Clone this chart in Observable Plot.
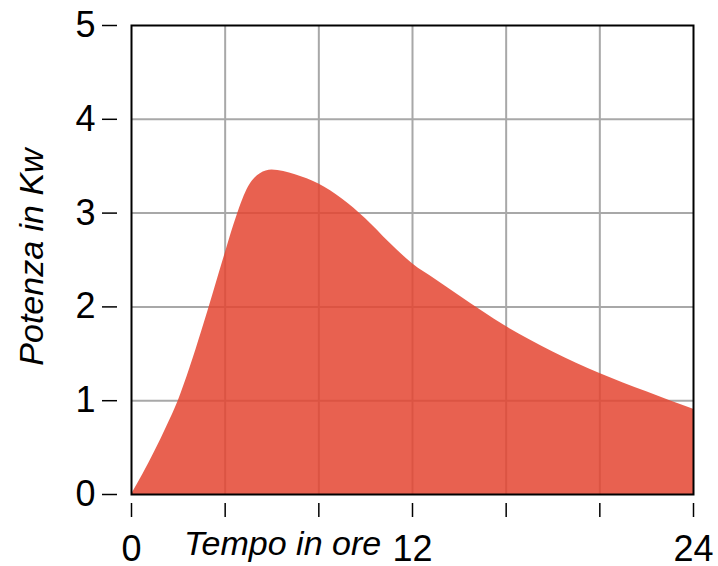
<!DOCTYPE html>
<html>
<head>
<meta charset="utf-8">
<script src="https://cdn.jsdelivr.net/npm/d3@7"></script>
<script src="https://cdn.jsdelivr.net/npm/@observablehq/plot@0.6"></script>
<style>
  html, body { margin: 0; padding: 0; background: #fff; }
</style>
</head>
<body>
<div id="chart"></div>
<script>
// Data
const hours = [0, 0.5, 1, 1.5, 2, 2.5, 3, 3.5, 4, 4.5, 5, 5.5, 6, 7, 8, 9, 10, 11, 12, 13, 14, 15, 16, 17, 18, 19, 20, 21, 22, 23, 24];
const power = [0, 0.22, 0.46, 0.72, 1.0, 1.35, 1.74, 2.15, 2.57, 2.97, 3.28, 3.42, 3.46, 3.41, 3.31, 3.15, 2.94, 2.69, 2.46, 2.29, 2.12, 1.95, 1.79, 1.65, 1.52, 1.40, 1.29, 1.19, 1.095, 1.0, 0.91];
const xTicks = [0, 4, 8, 12, 16, 20, 24];
const xTickLabels = [0, 12, 24];
const yTicks = [0, 1, 2, 3, 4, 5];
const xGrid = [4, 8, 12, 16, 20];
const yGrid = [1, 2, 3, 4];
const xTitle = "Tempo in ore";
const yTitle = "Potenza in Kw";

const data = hours.map((h, i) => ({hour: h, kw: power[i]}));

const chart = Plot.plot({
  width: 718,
  height: 566,
  marginLeft: 131,
  marginRight: 25,
  marginTop: 25,
  marginBottom: 72,
  style: {fontFamily: "'Liberation Sans', Arial, sans-serif", fontSize: "36px", color: "#000", background: "#fff"},
  x: {domain: [0, 24], axis: null},
  y: {domain: [0, 5], axis: null},
  marks: [
    Plot.gridX(xGrid, {stroke: "#a8a8a8", strokeOpacity: 1, strokeWidth: 2}),
    Plot.gridY(yGrid, {stroke: "#a8a8a8", strokeOpacity: 1, strokeWidth: 2}),
    Plot.areaY(data, {x: "hour", y: "kw", curve: "monotone-x", fill: "#e44531", fillOpacity: 0.85}),
    Plot.frame({stroke: "#000", strokeWidth: 2}),
    Plot.axisX({ticks: xTicks, tickSize: 14, dy: 9, tickFormat: () => "", label: null, stroke: "#000", strokeWidth: 1.5}),
    Plot.axisX({ticks: xTickLabels, tickSize: 0, tickPadding: 0, dy: 41, tickFormat: d3.format("d"), label: null, fontSize: 36, fill: "#000"}),
    Plot.axisY({ticks: yTicks, tickSize: 15, dx: -14, tickPadding: 7, tickFormat: d3.format("d"), label: null, fontSize: 36, stroke: "#000", strokeWidth: 1.5, fill: "#000"}),
    Plot.text([xTitle], {x: 6.45, frameAnchor: "bottom", lineAnchor: "bottom", dy: 60, fontSize: 34, fontStyle: "italic", fill: "#000", letterSpacing: "-0.2px"}),
    Plot.text([yTitle], {frameAnchor: "left", textAnchor: "middle", rotate: -90, dx: -99, dy: -3, fontSize: 34, fontStyle: "italic", fill: "#000", letterSpacing: "-1.6px"})
  ]
});
document.getElementById("chart").appendChild(chart);
</script>
</body>
</html>
